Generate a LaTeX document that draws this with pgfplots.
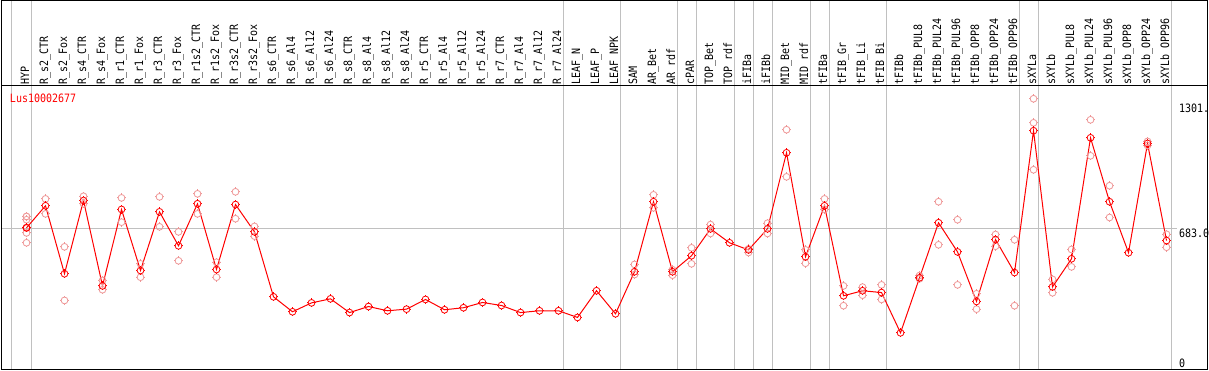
\documentclass[border=0pt]{standalone}
\usepackage{pgfplots}
\pgfplotsset{compat=1.18}
\usepackage{pgfplotstable}
\usepackage{fontspec}
\newfontfamily\pix[FakeStretch=0.87]{DejaVu Sans Mono}
\newcommand\pixfont{\pix\fontsize{11.5}{12}\selectfont}
\definecolor{rep}{RGB}{238,150,150}
\definecolor{gridg}{RGB}{192,192,192}

\pgfdeclareplotmark{gear}{%
 \pgfpathcircle{\pgfpointorigin}{\pgfplotmarksize}%
 \pgfusepathqstroke
 \pgfsetlinewidth{0.8pt}%
 \pgfpathmoveto{\pgfqpoint{0pt}{\pgfplotmarksize}}\pgfpathlineto{\pgfqpoint{0pt}{1.3\pgfplotmarksize}}%
 \pgfpathmoveto{\pgfqpoint{0pt}{-\pgfplotmarksize}}\pgfpathlineto{\pgfqpoint{0pt}{-1.3\pgfplotmarksize}}%
 \pgfpathmoveto{\pgfqpoint{\pgfplotmarksize}{0pt}}\pgfpathlineto{\pgfqpoint{1.3\pgfplotmarksize}{0pt}}%
 \pgfpathmoveto{\pgfqpoint{-\pgfplotmarksize}{0pt}}\pgfpathlineto{\pgfqpoint{-1.3\pgfplotmarksize}{0pt}}%
 \pgfusepathqstroke}

\pgfplotstableread{
k v
0 688
1 797
2 461
3 823
4 401
5 779
6 477
7 767
8 599
9 807
10 482
11 803
12 668
13 347
14 273
15 317
16 337
17 269
18 299
19 278
20 286
21 334
22 283
23 293
24 319
25 304
26 269
27 278
28 278
29 245
30 377
31 263
32 471
33 817
34 471
35 550
36 683
37 614
38 579
39 683
40 1059
41 545
42 797
43 352
44 377
45 368
46 169
47 441
48 713
49 569
50 324
51 630
52 467
53 1168
54 396
55 535
56 1133
57 817
58 565
59 1105
60 625
}\means

\pgfplotstableread{
k v
0 744
0 728
0 663
0 614
1 831
1 757
2 594
2 329
3 844
3 807
4 428
4 382
5 836
5 716
6 510
6 444
7 841
7 693
8 668
8 525
9 856
9 757
10 518
10 444
11 866
11 733
12 695
12 647
32 507
32 457
33 851
33 787
34 481
34 454
35 589
35 510
36 704
36 660
38 584
38 566
39 711
39 660
40 1173
40 940
41 579
41 513
42 831
42 780
43 401
43 303
44 395
44 355
45 406
45 334
47 452
47 436
48 817
48 604
49 728
49 406
50 362
50 286
51 655
51 597
52 629
52 303
53 1326
53 1207
53 975
54 433
54 367
55 581
55 495
56 1222
56 1044
57 896
57 739
59 1115
59 1095
60 656
60 592
}\reps

\begin{document}
\begin{tikzpicture}
\useasboundingbox (0,0) rectangle (1209pt,370pt);
\begin{axis}[
  at={(1.5pt,0.5pt)}, anchor=south west,
  scale only axis, width=1206pt, height=284pt,
  xmin=-1.3158, xmax=62.158, ymin=-12.36, ymax=1391.5,
  xtick={0,...,60},
  xticklabels={HYP,R\_s2\_CTR,R\_s2\_Fox,R\_s4\_CTR,R\_s4\_Fox,R\_r1\_CTR,R\_r1\_Fox,R\_r3\_CTR,R\_r3\_Fox,R\_r1s2\_CTR,R\_r1s2\_Fox,R\_r3s2\_CTR,R\_r3s2\_Fox,R\_s6\_CTR,R\_s6\_Al4,R\_s6\_Al12,R\_s6\_Al24,R\_s8\_CTR,R\_s8\_Al4,R\_s8\_Al12,R\_s8\_Al24,R\_r5\_CTR,R\_r5\_Al4,R\_r5\_Al12,R\_r5\_Al24,R\_r7\_CTR,R\_r7\_Al4,R\_r7\_Al12,R\_r7\_Al24,LEAF\_N,LEAF\_P,LEAF\_NPK,SAM,AR\_Bet,AR\_rdf,cPAR,TOP\_Bet,TOP\_rdf,iFIBa,iFIBb,MID\_Bet,MID\_rdf,tFIBa,tFIB\_Gr,tFIB\_Li,tFIB\_Bi,tFIBb,tFIBb\_PUL8,tFIBb\_PUL24,tFIBb\_PUL96,tFIBb\_OPP8,tFIBb\_OPP24,tFIBb\_OPP96,sXYLa,sXYLb,sXYLb\_PUL8,sXYLb\_PUL24,sXYLb\_PUL96,sXYLb\_OPP8,sXYLb\_OPP24,sXYLb\_OPP96},
  xticklabel pos=upper,
  major tick length=0pt,
  x tick label style={rotate=90, anchor=west, font=\pixfont, inner sep=0pt, text height=8.4pt, text depth=0pt, yshift=1.5pt, xshift=1pt},
  ytick=\empty,
  axis line style={line width=1pt},
  clip=false,
]
\pgfplotsinvokeforeach{-0.8,0.25,28.25,31.25,34.25,35.25,37.25,38.25,39.25,41.25,42.25,45.25,52.25,53.25,60.25}{
  \draw[gridg, line width=1pt] (axis cs:#1,-12.36) -- (axis cs:#1,1814);
}
\draw[gridg, line width=1pt] (axis cs:-1.3158,683) -- (axis cs:60.53,683);
\addplot[only marks, mark=gear, mark size=3.4pt, color=rep, mark options={line width=1pt}] table[x=k,y=v] {\reps};
\addplot[red, line width=1pt, mark=gear, mark size=3.4pt, mark options={line width=1.2pt, solid}] table[x=k,y=v] {\means};
\node[anchor=north west, inner sep=0pt, font=\pixfont] at (axis cs:60.647,1301) {1301.};
\node[anchor=north west, inner sep=0pt, font=\pixfont] at (axis cs:60.647,683) {683.0};
\node[anchor=north west, inner sep=0pt, font=\pixfont] at (axis cs:60.647,40.5) {0};
\node[anchor=north west, inner sep=0pt, font=\pixfont, text=red] at (axis cs:-0.879,1352) {Lus10002677};
\end{axis}
\draw[line width=1pt] (1.5pt,0.5pt) rectangle (1207.5pt,369.5pt);
\draw[line width=1pt] (1.5pt,284.5pt) -- (1207.5pt,284.5pt);
\end{tikzpicture}
\end{document}
